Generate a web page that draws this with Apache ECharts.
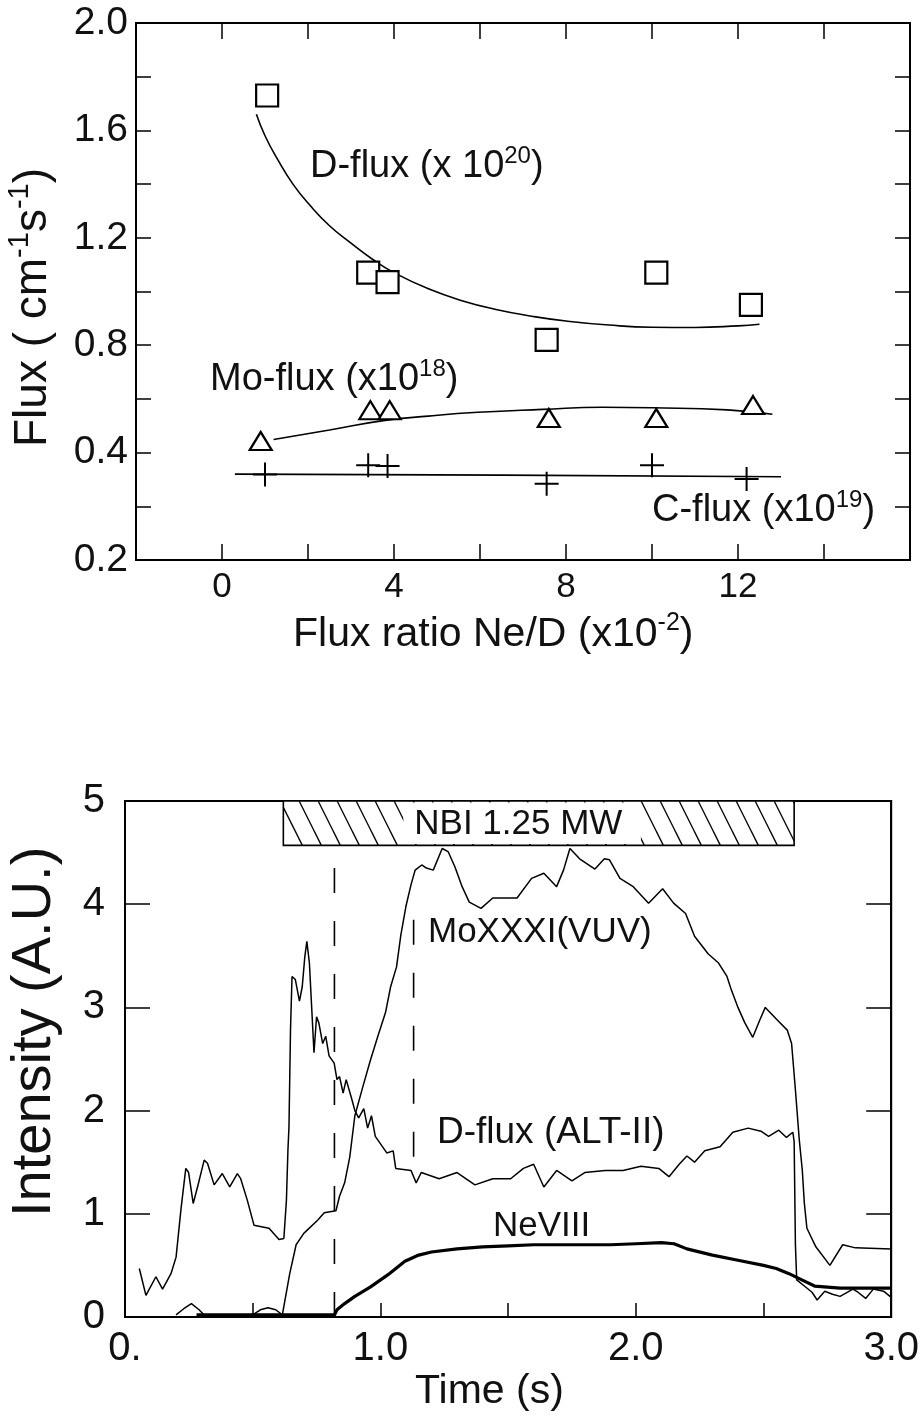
<!DOCTYPE html>
<html><head><meta charset="utf-8">
<script src="https://cdn.jsdelivr.net/npm/echarts@6/dist/echarts.min.js"></script>
<style>html,body{margin:0;padding:0;background:#fff}#c{width:922px;height:1421px}</style>
</head><body><div id="c"></div>
<script>
// ===== Top panel: flux vs Ne/D flux ratio =====
const dSqX = [1.05, 3.4, 3.85, 7.55, 10.1, 12.3];
const dSqY = [1.73, 1.07, 1.035, 0.82, 1.07, 0.95];
const moTriX = [0.9, 3.45, 3.9, 7.6, 10.1, 12.35];
const moTriY = [0.443, 0.558, 0.558, 0.529, 0.529, 0.577];
const cCrossX = [1.0, 3.4, 3.85, 7.55, 10.0, 12.2];
const cCrossY = [0.318, 0.353, 0.35, 0.284, 0.353, 0.302];
const dFitX = [0.8, 1.0, 1.3, 1.65, 2.05, 2.5, 3.0, 3.5, 4.0, 4.8, 5.6, 6.4, 7.2, 8.0, 9.0, 10.0, 11.0, 12.0, 12.5];
const dFitY = [1.66, 1.58, 1.49, 1.40, 1.32, 1.245, 1.18, 1.12, 1.07, 1.01, 0.965, 0.932, 0.908, 0.89, 0.875, 0.867, 0.866, 0.872, 0.878];
const moFitX = [1.2, 2.5, 3.75, 4.8, 5.95, 7.45, 8.85, 10.0, 11.75, 12.8];
const moFitY = [0.449, 0.484, 0.519, 0.536, 0.55, 0.561, 0.569, 0.567, 0.559, 0.543];
const cFitX = [0.3, 6.5, 13.0];
const cFitY = [0.32, 0.316, 0.31];
const topXTickLabels = [0, 4, 8, 12];
const topYTickVals = [0, 0.4, 0.8, 1.2, 1.6, 2.0];
const topYTickText = ['0.2', '0.4', '0.8', '1.2', '1.6', '2.0'];

// ===== Bottom panel: time traces =====
const moT = [0.20,0.23,0.26,0.29,0.31,0.50,0.53,0.56,0.59,0.616,0.645,0.67,0.70,0.755,0.78,0.826,0.84,0.86,0.88,0.90,0.93,0.96,0.99,1.02,1.04,1.063,1.08,1.10,1.12,1.136,1.162,1.18,1.207,1.242,1.265,1.292,1.32,1.348,1.394,1.44,1.535,1.592,1.64,1.69,1.717,1.742,1.78,1.84,1.877,1.897,1.938,1.99,2.05,2.105,2.148,2.195,2.23,2.283,2.324,2.357,2.374,2.40,2.427,2.458,2.486,2.507,2.553,2.593,2.61,2.625,2.64,2.652,2.66,2.67,2.705,2.76,2.81,2.86,3.0];
const moV = [0.02,0.08,0.13,0.07,0.02,0.02,0.07,0.09,0.07,0.02,0.42,0.70,0.81,0.94,1.01,1.03,1.17,1.30,1.55,1.95,2.22,2.48,2.72,2.95,3.20,3.39,3.70,3.98,4.19,4.33,4.38,4.35,4.33,4.54,4.51,4.36,4.17,4.02,3.96,4.06,4.06,4.25,4.30,4.17,4.33,4.54,4.44,4.34,4.44,4.43,4.25,4.17,4.01,4.15,4.01,3.91,3.69,3.52,3.43,3.30,3.17,3.00,2.85,2.71,2.88,3.00,2.88,2.78,2.65,2.20,1.72,1.42,1.10,0.86,0.68,0.50,0.70,0.67,0.66];
const dT = [0.056,0.082,0.121,0.147,0.18,0.20,0.219,0.238,0.249,0.267,0.284,0.31,0.323,0.349,0.381,0.41,0.44,0.453,0.479,0.505,0.564,0.603,0.622,0.632,0.638,0.642,0.648,0.654,0.667,0.683,0.694,0.704,0.712,0.722,0.74,0.75,0.759,0.774,0.786,0.799,0.819,0.83,0.84,0.854,0.866,0.887,0.90,0.915,0.935,0.95,0.965,0.98,1.025,1.05,1.06,1.12,1.14,1.16,1.23,1.30,1.37,1.44,1.51,1.56,1.60,1.64,1.69,1.75,1.80,1.88,1.95,2.02,2.09,2.13,2.17,2.20,2.23,2.27,2.33,2.38,2.44,2.49,2.52,2.56,2.59,2.615,2.62,2.625,2.63,2.66,2.69,2.71,2.74,2.77,2.80,2.85,2.87,2.90,2.93,2.97,3.0];
const dV = [0.47,0.21,0.39,0.27,0.42,0.58,1.04,1.44,1.40,1.10,1.26,1.52,1.49,1.28,1.39,1.26,1.39,1.34,1.13,0.89,0.86,0.75,0.76,1.13,1.62,1.84,2.78,3.30,3.27,3.06,3.20,3.49,3.64,3.43,2.56,2.91,2.85,2.65,2.72,2.53,2.46,2.30,2.33,2.17,2.30,2.12,2.00,1.93,2.02,1.83,1.95,1.75,1.59,1.61,1.44,1.42,1.30,1.40,1.34,1.40,1.28,1.34,1.34,1.44,1.48,1.26,1.42,1.32,1.40,1.42,1.42,1.46,1.44,1.36,1.48,1.56,1.50,1.61,1.65,1.79,1.83,1.80,1.75,1.81,1.74,1.79,1.70,0.70,0.36,0.30,0.24,0.165,0.25,0.22,0.20,0.27,0.24,0.18,0.27,0.25,0.19];
const neT = [0.28,0.82,0.83,0.86,0.90,0.96,1.03,1.096,1.15,1.20,1.30,1.40,1.50,1.60,1.70,1.80,1.90,2.00,2.10,2.15,2.20,2.30,2.40,2.50,2.55,2.60,2.65,2.70,2.80,3.0];
const neV = [0.02,0.02,0.07,0.13,0.20,0.29,0.41,0.54,0.60,0.63,0.66,0.68,0.69,0.70,0.70,0.70,0.70,0.71,0.72,0.71,0.66,0.60,0.55,0.50,0.47,0.42,0.36,0.30,0.28,0.28];
const dash1 = [[0.82, 4.35], [0.82, 0]];
const dash2 = [[1.13, 3.85], [1.13, 1.3]];
const nbi = [0.62, 2.62, 4.57, 5.0];     // t start, t end, low, high
const nbiLabel = 'NBI 1.25 MW';
const nbiLabelT = 1.54, nbiGapT = [1.09, 2.02];
const botXTickText = {0: '0.', 1: '1.0', 2: '2.0', 3: '3.0'};

const FF = "'Liberation Sans', Arial, Helvetica, sans-serif";
const INK = '#111';
const zip = (a, b) => a.map((v, i) => [v, b[i]]);

const chart = echarts.init(document.getElementById('c'), null, {renderer: 'canvas'});

function richText(x, y, parts, size, extra) {
  const txt = parts.map(p => (p[1] ? '{s|' : '{a|') + p[0] + '}').join('');
  return Object.assign({
    type: 'text', x: x, y: y, z: 50,
    style: {
      text: txt,
      align: 'left', textAlign: 'left', verticalAlign: 'middle', textVerticalAlign: 'middle',
      fill: INK,
      rich: {
        a: {fontSize: size, fontFamily: FF, lineHeight: Math.round(size * 1.2), fill: INK},
        s: {fontSize: Math.round(size * 0.62), fontFamily: FF, lineHeight: Math.round(size * 0.62), verticalAlign: 'top', fill: INK}
      }
    }
  }, extra || {});
}

const axisLineStyle = {show: true, onZero: false, lineStyle: {color: '#000', width: 2}};

const option = {
  animation: false,
  backgroundColor: '#fff',
  grid: [
    {left: 136, top: 23, width: 774, height: 537, show: true, borderColor: '#000', borderWidth: 2},
    {left: 125, top: 801, width: 769, height: 516, show: true, borderColor: '#000', borderWidth: 2}
  ],
  xAxis: [
    {type: 'value', gridIndex: 0, min: -2, max: 16, interval: 2, axisLine: axisLineStyle,
     axisTick: {inside: true, length: 16, lineStyle: {color: '#000', width: 1.5}},
     splitLine: {show: false},
     axisLabel: {margin: 10, fontSize: 35, fontFamily: FF, color: INK, showMinLabel: true, showMaxLabel: true,
       formatter: v => topXTickLabels.indexOf(Math.round(v)) >= 0 && Math.abs(v - Math.round(v)) < 1e-6 ? String(Math.round(v)) : ''}},
    {type: 'value', gridIndex: 0, position: 'top', min: -2, max: 16, interval: 2, axisLine: axisLineStyle,
     axisTick: {inside: true, length: 16, lineStyle: {color: '#000', width: 1.5}},
     splitLine: {show: false}, axisLabel: {show: false}},
    {type: 'value', gridIndex: 1, min: 0, max: 3, interval: 0.5, axisLine: axisLineStyle,
     axisTick: {inside: true, length: 14, lineStyle: {color: '#000', width: 1.5}},
     splitLine: {show: false},
     axisLabel: {margin: 12, fontSize: 40, fontFamily: FF, color: INK, showMinLabel: true, showMaxLabel: true,
       formatter: v => { const r = Math.round(v); return Math.abs(v - r) < 1e-6 && botXTickText[r] !== undefined ? botXTickText[r] : ''; }}}
  ],
  yAxis: [
    {type: 'value', gridIndex: 0, min: 0, max: 2, interval: 0.2, axisLine: axisLineStyle,
     axisTick: {inside: true, length: 15, lineStyle: {color: '#000', width: 1.5}},
     splitLine: {show: false},
     axisLabel: {margin: 8, fontSize: 39, fontFamily: FF, color: INK, showMinLabel: true, showMaxLabel: true,
       formatter: v => { const i = topYTickVals.findIndex(t => Math.abs(t - v) < 1e-6); return i >= 0 ? topYTickText[i] : ''; }}},
    {type: 'value', gridIndex: 0, position: 'right', min: 0, max: 2, interval: 0.2, axisLine: axisLineStyle,
     axisTick: {inside: true, length: 15, lineStyle: {color: '#000', width: 1.5}},
     splitLine: {show: false}, axisLabel: {show: false}},
    {type: 'value', gridIndex: 1, min: 0, max: 5, interval: 1, axisLine: axisLineStyle,
     axisTick: {inside: true, length: 25, lineStyle: {color: '#000', width: 1.5}},
     splitLine: {show: false},
     axisLabel: {margin: 20, fontSize: 40, fontFamily: FF, color: INK, showMinLabel: true, showMaxLabel: true}},
    {type: 'value', gridIndex: 1, position: 'right', min: 0, max: 5, interval: 1, axisLine: axisLineStyle,
     axisTick: {inside: true, length: 25, lineStyle: {color: '#000', width: 1.5}},
     splitLine: {show: false}, axisLabel: {show: false}}
  ],
  series: [
    {type: 'line', xAxisIndex: 0, yAxisIndex: 0, data: zip(dFitX, dFitY), smooth: 0.5, showSymbol: false,
     lineStyle: {color: '#000', width: 1.6}, z: 2},
    {type: 'line', xAxisIndex: 0, yAxisIndex: 0, data: zip(moFitX, moFitY), smooth: 0.5, showSymbol: false,
     lineStyle: {color: '#000', width: 1.6}, z: 2},
    {type: 'line', xAxisIndex: 0, yAxisIndex: 0, data: zip(cFitX, cFitY), smooth: 0.5, showSymbol: false,
     lineStyle: {color: '#000', width: 1.6}, z: 2},
    {type: 'scatter', xAxisIndex: 0, yAxisIndex: 0, data: zip(dSqX, dSqY), symbol: 'rect', symbolSize: [22, 22],
     itemStyle: {color: '#fff', borderColor: '#000', borderWidth: 2.2, opacity: 1}, z: 5},
    {type: 'scatter', xAxisIndex: 0, yAxisIndex: 0, data: zip(moTriX, moTriY), symbol: 'triangle', symbolSize: [22, 18],
     itemStyle: {color: '#fff', borderColor: '#000', borderWidth: 2.2, opacity: 1}, z: 5},
    {type: 'scatter', xAxisIndex: 0, yAxisIndex: 0, data: zip(cCrossX, cCrossY),
     symbol: 'path://M11,0 h2 v24 h-2 z M0,11 h24 v2 h-24 z', symbolSize: [24, 24],
     itemStyle: {color: '#000', opacity: 1}, z: 5},
    {type: 'line', xAxisIndex: 2, yAxisIndex: 2, data: zip(neT, neV), showSymbol: false,
     lineStyle: {color: '#000', width: 3.2}, z: 3},
    {type: 'line', xAxisIndex: 2, yAxisIndex: 2, data: zip(moT, moV), showSymbol: false,
     lineStyle: {color: '#000', width: 1.5}, z: 3},
    {type: 'line', xAxisIndex: 2, yAxisIndex: 2, data: zip(dT, dV), showSymbol: false,
     lineStyle: {color: '#000', width: 1.5}, z: 3},
    {type: 'line', xAxisIndex: 2, yAxisIndex: 2, data: dash1, showSymbol: false,
     lineStyle: {color: '#000', width: 1.6, type: [25, 28]}, z: 3},
    {type: 'line', xAxisIndex: 2, yAxisIndex: 2, data: dash2, showSymbol: false,
     lineStyle: {color: '#000', width: 1.6, type: [25, 28]}, z: 3},
    {type: 'custom', xAxisIndex: 2, yAxisIndex: 2, data: [nbi], z: 6, clip: false,
     renderItem: function (params, api) {
       const p0 = api.coord([api.value(0), api.value(3)]);
       const p1 = api.coord([api.value(1), api.value(2)]);
       const L = p0[0], T = p0[1], R = p1[0], B = p1[1], H = B - T;
       const ch = [];
       ch.push({type: 'rect', shape: {x: L, y: T, width: R - L, height: H}, style: {fill: '#fff', stroke: '#000', lineWidth: 1.6}});
       const k = 0.5, step = 19;
       for (let x0 = L - H * k; x0 < R; x0 += step) {
         let xa = x0, ya = T, xb = x0 + H * k, yb = B;
         if (xa < L) { ya = T + (L - xa) / k; xa = L; }
         if (xb > R) { yb = B - (xb - R) / k; xb = R; }
         if (ya < yb) ch.push({type: 'line', shape: {x1: xa, y1: ya, x2: xb, y2: yb}, style: {stroke: '#000', lineWidth: 1.3}});
       }
       const g0 = api.coord([nbiGapT[0], api.value(3)]);
       const g1 = api.coord([nbiGapT[1], api.value(2)]);
       ch.push({type: 'rect', shape: {x: g0[0], y: T + 1.5, width: g1[0] - g0[0], height: H - 3}, style: {fill: '#fff', stroke: null}});
       const c = api.coord([nbiLabelT, (api.value(2) + api.value(3)) / 2]);
       ch.push({type: 'text', x: c[0], y: c[1] + 1, style: {text: nbiLabel, fontSize: 35, fontFamily: FF, fill: INK,
         align: 'center', textAlign: 'center', verticalAlign: 'middle', textVerticalAlign: 'middle'}});
       return {type: 'group', children: ch};
     }}
  ],
  graphic: [
    richText(310, 167, [['D-flux (x 10'], ['20', 1], [')']], 38),
    richText(210, 380, [['Mo-flux (x10'], ['18', 1], [')']], 38),
    richText(652, 511, [['C-flux (x10'], ['19', 1], [')']], 38),
    richText(293, 635, [['Flux ratio Ne/D (x10'], ['-2', 1], [')']], 41),
    richText(33, 447, [['Flux ( cm'], ['-1', 1], ['s'], ['-1', 1], [')']], 46, {rotation: Math.PI / 2}),
    richText(428, 932, [['MoXXXI(VUV)']], 35),
    richText(437, 1133, [['D-flux (ALT-II)']], 37),
    richText(493, 1226, [['NeVIII']], 35),
    richText(415, 1392, [['Time (s)']], 41),
    richText(35, 1217, [['Intensity (A.U.)']], 56, {rotation: Math.PI / 2})
  ]
};
chart.setOption(option);
</script>
</body></html>
